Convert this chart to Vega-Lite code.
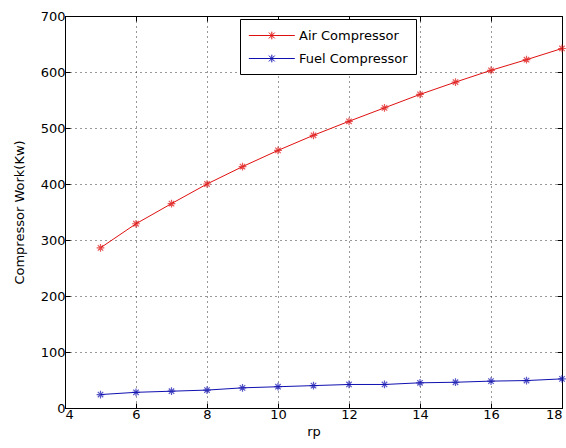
{
  "$schema": "https://vega.github.io/schema/vega-lite/v6.json",
  "autosize": "none",
  "width": 497,
  "height": 392,
  "padding": {"left": 65, "top": 16, "right": 4, "bottom": 40},
  "background": "white",
  "config": {
    "view": {"stroke": "black", "strokeWidth": 1},
    "font": "DejaVu Sans",
    "axis": {
      "labelFont": "DejaVu Sans",
      "labelFontSize": 13,
      "labelColor": "#000",
      "titleFont": "DejaVu Sans",
      "titleFontSize": 13,
      "titleFontWeight": "normal",
      "titleColor": "#000",
      "domainColor": "#000",
      "tickColor": "#000",
      "tickSize": -5,
      "labelPadding": 5,
      "gridColor": "#000",
      "gridDash": [1, 4],
      "gridOpacity": 0.8
    },
    "legend": {
      "labelFont": "DejaVu Sans",
      "labelFontSize": 13,
      "labelColor": "#000"
    }
  },
  "data": {
    "values": [
      {"rp": 5, "work": 286, "series": "Air Compressor"},
      {"rp": 6, "work": 329, "series": "Air Compressor"},
      {"rp": 7, "work": 365, "series": "Air Compressor"},
      {"rp": 8, "work": 400, "series": "Air Compressor"},
      {"rp": 9, "work": 431, "series": "Air Compressor"},
      {"rp": 10, "work": 460, "series": "Air Compressor"},
      {"rp": 11, "work": 487, "series": "Air Compressor"},
      {"rp": 12, "work": 512, "series": "Air Compressor"},
      {"rp": 13, "work": 536, "series": "Air Compressor"},
      {"rp": 14, "work": 560, "series": "Air Compressor"},
      {"rp": 15, "work": 582, "series": "Air Compressor"},
      {"rp": 16, "work": 603, "series": "Air Compressor"},
      {"rp": 17, "work": 622, "series": "Air Compressor"},
      {"rp": 18, "work": 642, "series": "Air Compressor"},
      {"rp": 5, "work": 24, "series": "Fuel Compressor"},
      {"rp": 6, "work": 28, "series": "Fuel Compressor"},
      {"rp": 7, "work": 30, "series": "Fuel Compressor"},
      {"rp": 8, "work": 32, "series": "Fuel Compressor"},
      {"rp": 9, "work": 36, "series": "Fuel Compressor"},
      {"rp": 10, "work": 38, "series": "Fuel Compressor"},
      {"rp": 11, "work": 40, "series": "Fuel Compressor"},
      {"rp": 12, "work": 42, "series": "Fuel Compressor"},
      {"rp": 13, "work": 42, "series": "Fuel Compressor"},
      {"rp": 14, "work": 45, "series": "Fuel Compressor"},
      {"rp": 15, "work": 46, "series": "Fuel Compressor"},
      {"rp": 16, "work": 48, "series": "Fuel Compressor"},
      {"rp": 17, "work": 49, "series": "Fuel Compressor"},
      {"rp": 18, "work": 52, "series": "Fuel Compressor"}
    ]
  },
  "layer": [
    {
      "mark": {"type": "line", "strokeWidth": 1},
      "encoding": {
        "x": {
          "field": "rp", "type": "quantitative",
          "scale": {"domain": [4, 18], "nice": false, "zero": false},
          "axis": {"orient": "bottom", "title": "rp", "values": [4, 6, 8, 10, 12, 14, 16, 18], "grid": true, "titlePadding": 4}
        },
        "y": {
          "field": "work", "type": "quantitative",
          "scale": {"domain": [0, 700], "nice": false},
          "axis": {"orient": "left", "title": "Compressor Work(Kw)", "values": [0, 100, 200, 300, 400, 500, 600, 700], "grid": true, "titlePadding": 14}
        },
        "color": {
          "field": "series", "type": "nominal",
          "scale": {"domain": ["Air Compressor", "Fuel Compressor"], "range": ["#e01010", "#1010b0"]},
          "legend": {
            "title": null,
            "orient": "none",
            "legendX": 175,
            "legendY": 3,
            "fillColor": "white",
            "strokeColor": "#000",
            "padding": 8,
            "symbolType": "M-1,0H5M2,-0.5V0.5M1.62,-0.38L2.38,0.38M1.62,0.38L2.38,-0.38M1.5,0H2.5",
            "symbolSize": 235,
            "symbolStrokeWidth": 1,
            "symbolFillColor": "transparent",
            "labelOffset": 34,
            "rowPadding": 7
          }
        }
      }
    },
    {
      "mark": {"type": "point", "filled": false, "strokeWidth": 1.2, "size": 60, "shape": "M-1,0L1,0M0,-1L0,1M-0.7,-0.7L0.7,0.7M-0.7,0.7L0.7,-0.7"},
      "encoding": {
        "x": {"field": "rp", "type": "quantitative", "axis": null},
        "y": {"field": "work", "type": "quantitative", "axis": null},
        "color": {"field": "series", "type": "nominal", "legend": null}
      }
    },
    {
      "mark": {"type": "point", "opacity": 0},
      "encoding": {
        "x": {"field": "rp", "type": "quantitative", "axis": {"orient": "top", "title": null, "labels": false, "domain": false, "grid": false, "values": [4, 6, 8, 10, 12, 14, 16, 18]}},
        "y": {"field": "work", "type": "quantitative", "axis": {"orient": "right", "title": null, "labels": false, "domain": false, "grid": false, "values": [0, 100, 200, 300, 400, 500, 600, 700]}}
      }
    }
  ],
  "resolve": {"axis": {"x": "independent", "y": "independent"}}
}
